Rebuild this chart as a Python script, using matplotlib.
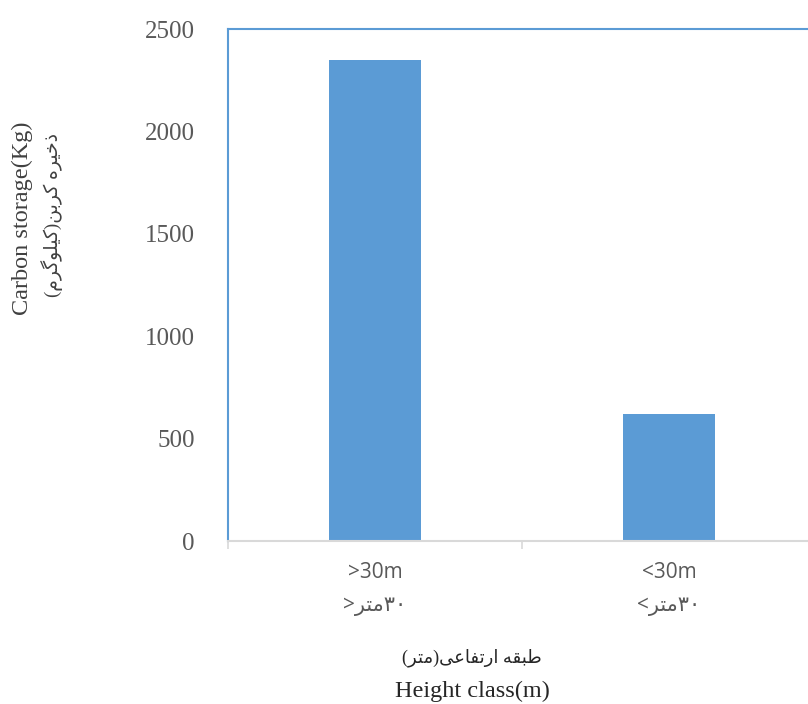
import matplotlib
matplotlib.use('Agg')
import matplotlib.pyplot as plt

# --- DATA ---
categories = ['>30m', '<30m']
categories_fa = ['۳۰متر>', '۳۰متر<']
carbon_kg = [2350, 620]
y_ticks = [0, 500, 1000, 1500, 2000, 2500]

ylabel_en = 'Carbon storage(Kg)'
ylabel_fa = 'ذخیره کربن(کیلوگرم)'
xlabel_en = 'Height class(m)'
xlabel_fa = 'طبقه ارتفاعی(متر)'

# --- petit "shaping" arabe/persan (matplotlib ne le fait pas) ---
FORMES = {
    'ا': ('\uFE8D', '\uFE8E'),
    'ب': ('\uFE8F', '\uFE90', '\uFE91', '\uFE92'),
    'ت': ('\uFE95', '\uFE96', '\uFE97', '\uFE98'),
    'خ': ('\uFEA5', '\uFEA6', '\uFEA7', '\uFEA8'),
    'ذ': ('\uFEAB', '\uFEAC'),
    'ر': ('\uFEAD', '\uFEAE'),
    'ط': ('\uFEC1', '\uFEC2', '\uFEC3', '\uFEC4'),
    'ع': ('\uFEC9', '\uFECA', '\uFECB', '\uFECC'),
    'ف': ('\uFED1', '\uFED2', '\uFED3', '\uFED4'),
    'ق': ('\uFED5', '\uFED6', '\uFED7', '\uFED8'),
    'ک': ('\uFB8E', '\uFB8F', '\uFB90', '\uFB91'),
    'گ': ('\uFB92', '\uFB93', '\uFB94', '\uFB95'),
    'ل': ('\uFEDD', '\uFEDE', '\uFEDF', '\uFEE0'),
    'م': ('\uFEE1', '\uFEE2', '\uFEE3', '\uFEE4'),
    'ن': ('\uFEE5', '\uFEE6', '\uFEE7', '\uFEE8'),
    'ه': ('\uFEE9', '\uFEEA', '\uFEEB', '\uFEEC'),
    'و': ('\uFEED', '\uFEEE'),
    'ی': ('\uFBFC', '\uFBFD', '\uFBFE', '\uFBFF'),
}
CHIFFRES = '۰۱۲۳۴۵۶۷۸۹0123456789'
MIROIR = {'(': ')', ')': '('}


def rtl(texte):
    glyphes = []
    for i, c in enumerate(texte):
        if c not in FORMES:
            glyphes.append(MIROIR.get(c, c))
            continue
        prev = texte[i - 1] if i > 0 else ''
        nxt = texte[i + 1] if i + 1 < len(texte) else ''
        j_prev = prev in FORMES and len(FORMES[prev]) == 4
        j_next = len(FORMES[c]) == 4 and nxt in FORMES
        f = FORMES[c]
        if j_prev and j_next:
            glyphes.append(f[3])
        elif j_prev:
            glyphes.append(f[1])
        elif j_next:
            glyphes.append(f[2])
        else:
            glyphes.append(f[0])
    glyphes = glyphes[::-1]
    # remettre les nombres dans le bon sens
    out, run = [], []
    for g in glyphes + ['']:
        if g and g in CHIFFRES:
            run.append(g)
        else:
            out.extend(run[::-1])
            run = []
            if g:
                out.append(g)
    return ''.join(out)


blue = '#5B9BD5'
grey_txt = '#595959'
label_col = '#404040'
serif = ['Liberation Serif', 'DejaVu Sans']
sans = ['Open Sans', 'DejaVu Sans']

fig = plt.figure(figsize=(8.08, 7.04), dpi=100)
ax = fig.add_axes([228 / 808, 163 / 704, 588 / 808, 512 / 704])

x = list(range(len(categories)))
ax.bar(x, carbon_kg, width=0.31, color=blue, zorder=2)

ax.set_xlim(-0.5, len(categories) - 0.5)
ax.set_ylim(0, 2500)
ax.set_yticks(y_ticks)
ax.set_yticklabels([str(v) for v in y_ticks], family=serif, fontsize=18, color=grey_txt)
ax.tick_params(axis='y', length=0, pad=24)

ax.set_xticks(x)
ax.set_xticklabels([f'{en}\n{rtl(fa)}' for en, fa in zip(categories, categories_fa)],
                   family=sans, fontsize=15, color=grey_txt, linespacing=1.75)
ax.tick_params(axis='x', length=0, pad=15)
ax.set_xticks([-0.5, 0.5, 1.5], minor=True)
ax.tick_params(axis='x', which='minor', length=6, color='#D9D9D9', width=1.2)

for s in ['left', 'top', 'right']:
    ax.spines[s].set_color(blue)
    ax.spines[s].set_linewidth(1.5)
ax.spines['bottom'].set_color('#D9D9D9')
ax.spines['bottom'].set_linewidth(1.5)

# titres des axes (anglais + persan)
fig.text(22 / 808, 1 - 218 / 704, ylabel_en, rotation=90, ha='center', va='center',
         family=serif, fontsize=17.5, color=label_col)
fig.text(52 / 808, 1 - 215 / 704, rtl(ylabel_fa), rotation=90, ha='center', va='center',
         family=serif, fontsize=13.5, color=label_col)
fig.text(472 / 808, 1 - 658 / 704, rtl(xlabel_fa), ha='center', va='center',
         family=serif, fontsize=13, color='#262626')
fig.text(472 / 808, 1 - 691 / 704, xlabel_en, ha='center', va='center',
         family=serif, fontsize=17.5, color='#262626')

fig.savefig('out.png', dpi=100)
